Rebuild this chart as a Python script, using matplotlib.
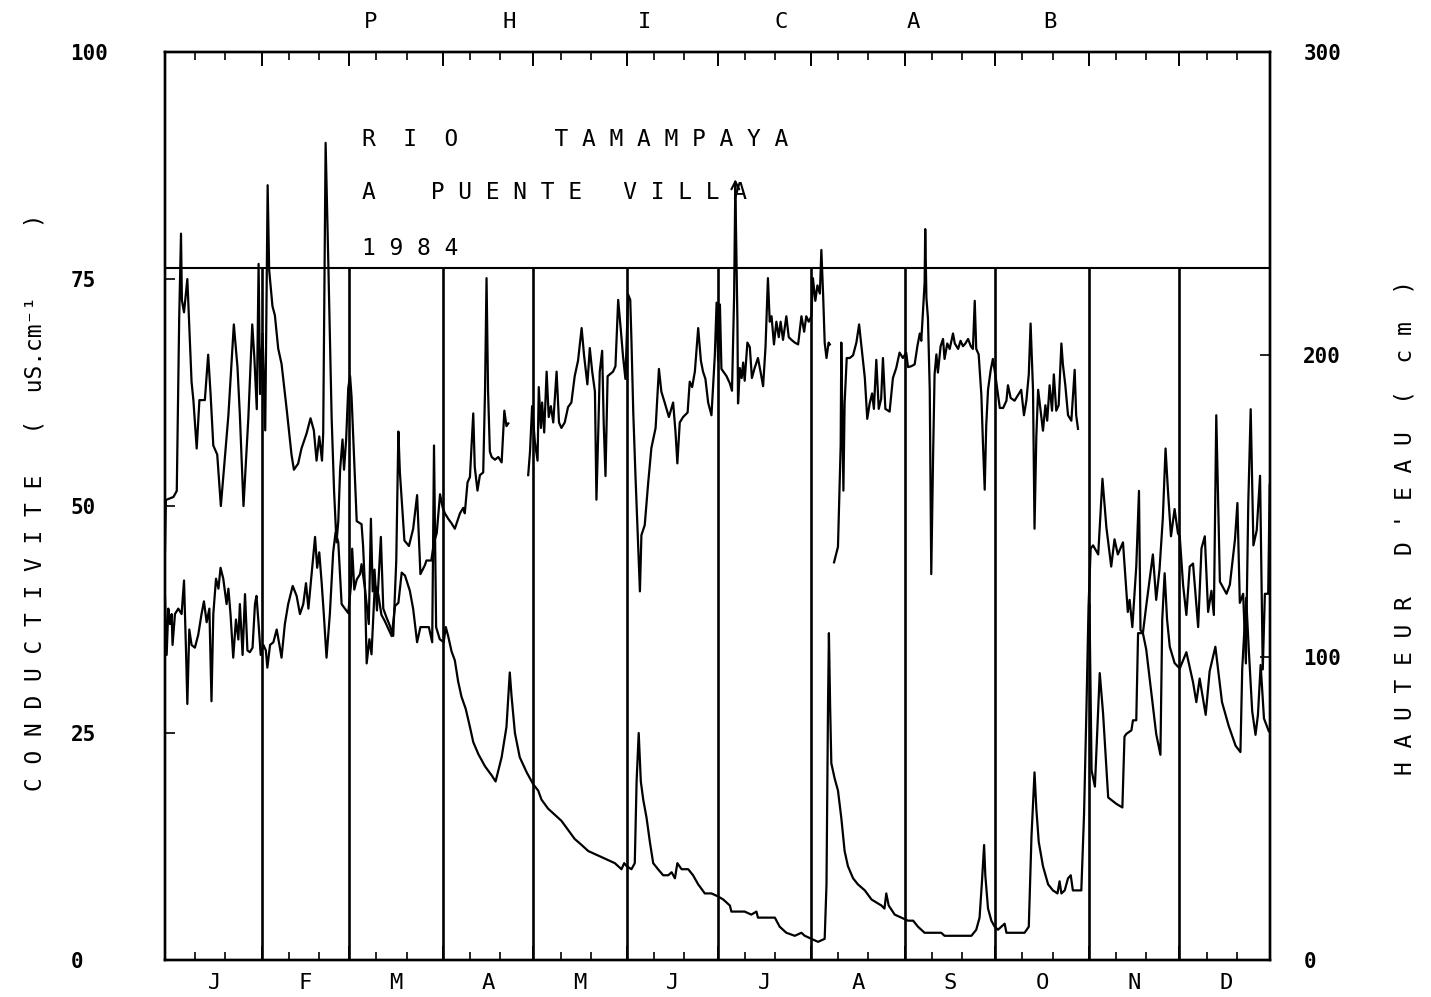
import numpy as np
import matplotlib
matplotlib.use('Agg')
import matplotlib.pyplot as plt
import matplotlib.transforms as mtransforms

MONTHS = ['J', 'F', 'M', 'A', 'M', 'J', 'J', 'A', 'S', 'O', 'N', 'D']
# day of year (1 = 1 jan 1984) of the first day of each month, + end of year
MONTH_START = [1, 32, 61, 92, 122, 153, 183, 214, 245, 275, 306, 336, 367]
CAMPAIGNS = ['P', 'H', 'I', 'C', 'A', 'B']
CAMPAIGN_DAY = [68, 114, 159, 204, 248, 293]

# conductivite (uS/cm), day of year -> value, nan = no measure
cond_points = [
    (0.0, 40.0), (0.55, 33.6), (1.1, 38.7), (1.65, 37.0), (2.2, 38.1), (2.5, 34.7), (3.3, 38.1),
    (4.4, 38.7), (5.5, 38.1), (6.3, 41.8), (7.0, 33.6), (7.4, 28.2), (8.05, 36.4), (8.8, 34.7),
    (9.9, 34.4), (11.0, 35.8), (12.1, 38.1), (12.9, 39.5), (13.8, 37.2), (14.7, 38.7), (15.4, 28.5),
    (16.0, 38.1), (16.9, 42.0), (17.7, 40.9), (18.4, 43.2), (19.3, 42.0), (20.4, 39.2), (21.0, 40.9),
    (21.7, 38.1), (22.6, 33.3), (23.5, 37.5), (24.3, 35.3), (24.8, 39.2), (25.7, 33.6), (26.5, 40.3),
    (27.3, 34.1), (28.1, 33.9), (29.0, 34.4), (29.8, 39.2), (30.3, 40.1), (31.0, 37.0), (31.7, 33.6),
    (32.6, 34.7), (33.4, 34.1), (33.9, 32.2), (34.8, 34.7), (35.9, 35.0), (37.0, 36.4), (37.9, 34.7),
    (38.6, 33.3), (39.7, 37.0), (40.8, 39.2), (42.3, 41.2), (43.6, 40.1), (44.7, 38.1), (45.8, 39.2),
    (46.7, 41.5), (47.5, 38.7), (48.6, 42.6), (49.7, 46.6), (50.4, 43.2), (51.1, 44.9), (51.9, 41.5),
    (52.6, 38.1), (53.5, 33.3), (54.6, 38.1), (55.7, 44.9), (56.5, 47.1), (57.4, 46.0), (58.5, 39.2),
    (59.6, 38.7), (60.7, 38.2), (61.6, 41.3), (62.0, 45.3), (62.7, 40.8), (63.5, 41.9), (64.6, 42.5),
    (65.1, 43.6), (66.2, 41.0), (67.5, 37.0), (68.2, 48.6), (68.8, 40.6), (69.4, 43.0), (70.2, 38.5),
    (71.5, 46.6), (72.3, 38.7), (73.4, 37.7), (74.5, 36.8), (75.6, 35.7), (76.6, 44.0), (77.3, 58.2),
    (77.8, 53.7), (78.9, 48.1), (79.3, 46.2), (80.8, 45.6), (82.2, 47.5), (83.5, 51.2), (84.6, 42.5),
    (86.1, 43.5), (86.6, 44.0), (88.2, 44.0), (89.1, 46.0), (90.0, 47.0), (91.1, 51.3), (92.0, 49.8),
    (92.7, 49.2), (93.8, 48.6), (94.9, 48.1), (96.0, 47.5), (97.1, 48.6),
    (97.7, 49.2), (98.8, 49.8), (99.3, 49.2), (100.2, 52.6), (101.0, 53.2), (102.1, 60.2), (102.6, 54.3),
    (103.5, 51.7), (104.3, 53.4), (105.4, 53.7), (106.0, 62.7), (106.5, 75.1), (107.0, 62.7),
    (107.6, 56.0), (108.2, 55.4), (109.3, 55.1), (110.4, 55.4), (111.5, 54.8), (112.4, 60.5),
    (113.1, 58.8), (113.7, 59.1), (117.0, np.nan), (120.3, 53.4), (120.9, 56.0), (121.6, 61.0),
    (122.5, 57.1), (123.4, 55.0), (123.8, 63.1), (124.5, 58.6), (124.9, 61.4), (125.6, 58.1),
    (126.4, 64.8), (127.1, 59.8), (127.8, 61.0), (128.6, 59.2), (129.7, 64.8), (130.5, 59.2),
    (131.3, 58.6), (132.4, 59.2), (133.5, 60.9), (134.6, 61.4), (135.7, 64.3), (136.8, 66.0),
    (138.0, 69.6), (138.8, 66.6), (139.9, 63.4), (140.7, 67.4), (141.5, 64.8), (142.4, 62.6),
    (142.9, 50.7), (143.5, 58.1), (144.0, 64.8), (144.8, 67.1), (145.3, 59.2), (145.9, 53.3),
    (146.6, 64.3), (147.3, 64.5), (148.4, 64.8), (149.2, 65.4), (150.1, 72.7), (151.0, 69.3),
    (151.7, 66.5), (152.5, 64.0), (153.4, 73.3), (154.1, 72.7), (154.5, 68.2), (155.1, 60.3),
    (155.8, 53.6), (156.7, 45.7), (157.3, 40.6), (157.8, 46.8), (158.9, 47.9), (160.0, 52.4),
    (161.1, 56.4), (162.5, 58.6), (163.6, 65.1), (164.4, 62.6), (165.5, 61.4), (166.9, 59.8),
    (168.3, 61.4), (169.1, 58.1), (169.7, 54.7), (170.5, 59.2), (171.6, 59.8), (173.1, 60.3),
    (173.8, 63.7), (174.6, 63.1), (175.5, 64.8), (176.6, 69.6), (177.5, 66.0), (178.2, 64.8),
    (179.0, 64.0), (179.9, 61.4), (181.0, 60.0), (182.1, 66.5), (182.7, 72.4), (183.2, 66.0),
    (183.8, 72.2), (184.3, 65.1), (186.0, 64.3), (187.1, 63.5), (187.8, 62.7), (188.5, 73.1),
    (188.9, 85.5), (189.6, 70.3), (189.8, 61.3), (190.4, 65.2), (191.0, 64.1), (191.5, 65.8),
    (192.0, 63.8), (192.9, 68.0), (193.7, 67.5), (194.4, 64.1), (195.3, 65.2), (196.4, 66.3),
    (197.3, 64.7), (198.1, 63.2), (198.9, 67.5), (199.7, 75.1), (200.3, 70.3), (200.9, 70.9),
    (201.7, 67.8), (202.5, 70.3), (203.3, 68.6), (203.9, 70.3), (204.7, 68.3), (205.8, 70.9),
    (206.6, 68.6), (207.5, 68.3), (208.6, 68.0), (209.7, 67.8), (210.8, 70.9), (211.7, 69.2),
    (212.4, 70.9), (213.2, 70.3), (214.1, 70.9), (214.6, 75.1), (215.4, 72.6), (216.1, 74.3),
    (216.9, 73.4), (217.4, 78.2), (218.0, 73.1), (218.5, 68.0), (219.1, 66.3), (219.8, 68.0),
    (220.2, 67.8), (221.0, np.nan), (221.6, 43.8), (222.9, 45.5), (223.8, 56.7), (224.0, 68.0),
    (224.4, 59.0), (224.7, 51.7), (225.1, 61.3), (225.8, 66.3), (226.8, 66.3), (227.9, 66.6),
    (229.0, 68.0), (229.9, 70.0), (230.7, 67.5), (231.8, 64.1), (232.6, 59.6), (233.4, 61.3),
    (234.2, 62.4), (234.8, 60.7), (235.6, 66.1), (236.4, 60.7), (237.2, 61.8), (237.8, 66.3),
    (238.6, 60.7), (240.0, 60.4), (241.1, 64.1), (242.2, 65.2), (243.3, 66.9), (244.4, 66.3),
    (245.5, 66.9), (246.1, 65.3), (247.2, 65.4), (248.3, 65.6), (249.2, 67.6), (250.0, 69.0),
    (250.5, 68.2), (251.1, 71.8), (251.6, 74.6), (251.8, 80.5), (252.2, 72.9), (252.7, 70.7),
    (253.3, 62.8), (253.8, 42.5), (254.4, 55.4), (254.9, 64.5), (255.5, 66.7), (256.0, 64.7),
    (256.9, 67.6), (257.7, 68.4), (258.2, 66.2), (259.1, 67.9), (259.9, 67.3), (261.0, 69.0),
    (261.6, 67.9), (262.7, 67.3), (263.5, 68.2), (264.3, 67.6), (265.1, 67.9), (266.0, 68.4),
    (266.9, 67.6), (267.6, 67.3), (268.2, 72.6), (268.7, 67.3), (269.5, 66.7), (270.4, 62.2),
    (270.9, 57.1), (271.5, 51.8), (272.0, 58.8), (272.6, 62.8), (273.5, 65.0), (274.2, 66.2),
    (275.0, 64.5), (275.7, 62.8), (276.5, 60.8), (277.6, 60.8), (278.7, 61.6), (279.2, 63.3),
    (280.1, 61.9), (281.4, 61.6), (282.5, 62.2), (283.6, 62.8), (284.5, 60.0), (285.3, 61.6),
    (286.1, 64.5), (286.7, 70.1), (287.5, 62.8), (288.0, 47.5), (288.6, 57.7), (289.2, 62.8),
    (290.0, 60.5), (290.8, 58.3), (291.6, 61.1), (292.2, 59.4), (293.0, 63.3), (293.8, 60.5),
    (294.4, 64.5), (295.2, 60.5), (296.0, 61.1), (296.9, 67.9), (297.4, 65.6), (298.2, 63.3),
    (299.1, 60.0), (300.2, 59.4), (301.3, 65.0), (301.8, 60.0), (302.4, 58.5), (304.3, np.nan),
    (306.2, 39.1), (306.9, 20.9), (308.0, 19.1), (309.6, 31.6), (310.7, 27.2), (312.4, 17.9),
    (315.1, 17.2), (317.1, 16.8), (317.8, 24.6), (318.4, 24.9), (320.1, 25.3), (320.6, 26.4),
    (321.7, 26.4), (322.3, 36.0), (323.9, 36.0), (325.0, 34.2), (326.7, 29.4), (328.3, 24.9),
    (329.7, 22.6), (330.3, 37.5), (331.1, 42.6), (331.9, 37.5), (332.8, 34.5), (334.4, 32.7),
    (336.1, 32.1), (338.3, 33.9), (340.5, 30.6), (341.6, 28.4), (342.7, 31.0), (344.7, 27.0),
    (346.0, 31.8), (347.9, 34.5), (350.1, 28.4), (352.3, 25.8), (354.6, 23.6), (356.2, 22.9),
    (356.8, 32.1), (358.1, 39.9), (359.0, 34.0), (360.1, 27.4), (361.2, 24.8), (362.0, 27.0),
    (362.9, 32.5), (364.0, 26.6), (365.6, 25.2),
]

# hauteur d'eau (cm)
water_points = [
    (0.0, 135), (0.3, 152), (2.8, 153), (3.9, 155), (4.7, 212), (5.3, 240), (5.6, 218), (6.3, 214),
    (7.4, 225), (8.8, 191), (9.4, 185), (10.5, 169), (11.4, 185), (13.2, 185), (14.3, 200),
    (15.1, 187), (16.0, 170), (17.3, 167), (18.5, 150), (21.0, 180), (22.8, 210), (24.0, 196),
    (24.8, 180), (26.0, 150), (27.6, 179), (28.9, 210), (29.6, 199), (30.4, 182), (31.0, 230),
    (31.5, 187), (32.3, 207), (33.2, 175), (34.0, 256), (34.5, 228), (35.6, 216), (36.4, 213),
    (37.5, 202), (38.6, 197), (40.3, 182), (41.9, 167), (42.7, 162), (44.1, 164), (45.2, 169),
    (46.9, 174), (48.2, 179), (49.3, 175), (50.2, 165), (51.1, 173), (52.0, 165), (52.4, 174),
    (53.2, 270), (54.1, 230), (55.2, 179), (56.0, 155), (56.8, 138), (57.4, 145), (58.0, 162),
    (58.8, 172), (59.3, 162), (60.0, 172), (60.7, 189), (61.3, 193), (61.8, 186), (63.5, 145),
    (65.1, 144), (65.6, 137), (66.2, 124), (66.8, 98), (67.7, 106), (68.4, 101), (69.5, 124),
    (70.6, 121), (71.7, 114), (72.8, 112), (75.1, 107), (76.2, 117), (77.3, 118),
    (78.4, 128), (79.5, 127), (81.1, 122), (82.2, 116), (83.5, 105), (84.6, 110), (87.4, 110),
    (88.5, 105), (89.1, 170), (89.8, 110), (91.0, 106), (92.3, 105), (93.0, 110),
    (93.8, 107), (94.9, 102), (96.0, 99), (97.1, 92),
    (98.2, 87), (99.6, 83), (101.0, 77), (102.1, 72), (103.8, 68), (106.0, 64), (108.2, 61),
    (109.5, 59), (111.5, 67), (113.1, 77), (114.2, 95), (114.8, 87), (115.9, 75), (117.5, 67),
    (119.8, 62), (122.0, 58), (123.6, 56), (124.7, 53), (126.9, 50), (129.1, 48), (131.3, 46),
    (133.5, 43), (135.7, 40), (138.0, 38), (140.2, 36), (142.4, 35), (144.6, 34), (146.8, 33),
    (149.0, 32), (151.2, 30), (152.1, 32), (152.9, 31), (154.5, 30), (155.6, 32), (156.2, 59),
    (156.9, 75), (157.6, 59), (158.4, 53), (159.5, 47), (160.6, 39), (161.7, 32), (163.3, 30),
    (165.0, 28), (166.7, 28), (167.8, 29), (168.9, 27), (169.7, 32), (171.1, 30), (173.3, 30),
    (174.9, 28), (176.6, 25), (178.8, 22), (181.0, 22), (183.2, 21), (184.9, 20), (187.1, 18),
    (187.6, 16), (192.0, 16), (194.2, 15), (195.9, 16), (196.4, 14), (202.0, 14), (203.6, 11),
    (205.8, 9), (208.6, 8), (210.8, 9), (211.9, 8), (214.1, 7), (216.3, 6), (218.5, 7),
    (219.1, 25), (219.6, 84), (219.9, 108), (220.3, 84), (220.7, 65), (221.8, 60), (222.9, 56),
    (224.0, 47), (225.1, 36), (226.2, 31), (227.9, 27), (229.5, 25), (231.8, 23), (234.0, 20),
    (237.3, 18), (238.3, 17), (238.9, 22), (239.7, 18), (241.7, 15), (243.9, 14), (246.1, 13),
    (247.8, 13), (249.4, 11), (251.6, 9), (257.1, 9), (258.2, 8), (267.1, 8), (268.7, 10),
    (269.8, 14), (270.6, 26), (271.3, 38), (271.7, 28), (272.6, 17), (273.7, 13), (274.8, 11),
    (275.9, 10), (277.0, 11), (278.1, 12), (278.7, 9), (284.7, 9), (286.1, 11), (287.0, 41),
    (288.0, 62), (288.6, 50), (289.4, 39), (290.8, 31), (292.5, 25), (294.1, 23), (295.6, 22),
    (296.3, 26), (296.9, 22), (298.0, 23), (299.1, 27), (300.0, 28), (300.7, 23), (301.5, 23),
    (302.6, 23), (303.5, 23), (304.4, 48), (305.2, 83), (305.9, 117), (306.6, 136), (307.4, 137),
    (309.1, 134), (310.5, 159), (311.8, 143), (313.4, 130), (314.5, 139), (315.6, 134),
    (317.3, 138), (318.4, 122), (318.9, 115), (319.5, 119), (320.4, 110), (321.7, 130),
    (322.6, 155), (323.1, 109), (323.9, 108), (325.0, 117), (327.2, 134), (328.3, 119),
    (329.4, 129), (330.5, 146), (331.4, 169), (332.2, 155), (333.2, 140), (334.4, 149),
    (335.5, 141), (336.1, 140), (337.2, 124), (338.3, 114), (339.4, 130), (340.5, 131),
    (342.2, 110), (343.3, 136), (344.4, 140), (345.5, 115), (346.6, 122), (347.4, 114),
    (348.2, 180), (349.4, 125), (351.6, 121), (352.7, 124), (354.4, 139), (355.2, 151),
    (356.0, 118), (357.1, 121), (358.0, 98), (358.8, 151), (359.6, 182), (360.5, 137),
    (361.6, 142), (362.7, 160), (363.6, 96), (364.3, 121), (365.4, 121), (365.9, 157),
]

HEADER_LINE = 76.2  # separator under the title block (left scale)
MONO = ['DejaVu Sans Mono', 'DejaVu Sans']

cond = np.array(cond_points, dtype=float)
water = np.array(water_points, dtype=float)

fig = plt.figure(figsize=(14.31, 9.97), dpi=100)
ax = fig.add_axes([0.1153, 0.0371, 0.7722, 0.9107])
ax2 = ax.twinx()

ax.plot(cond[:, 0], cond[:, 1], color='black', lw=1.6)
ax2.plot(water[:, 0], water[:, 1], color='black', lw=1.6)

# off-scale arrow on the highest conductivity value
imax = np.nanargmax(cond[:, 1])
ax.annotate('', xy=(cond[imax, 0], cond[imax, 1] + 0.8), xytext=(cond[imax, 0], cond[imax, 1] - 4),
            arrowprops=dict(arrowstyle='->', lw=1.5, color='black', mutation_scale=14))

ax.set_xlim(0, 366)
ax.set_ylim(0, 100)
ax2.set_ylim(0, 300)

ax.axhline(HEADER_LINE, color='black', lw=1.5)
ax.vlines(MONTH_START[1:-1], 0, HEADER_LINE, color='black', lw=1.9)

# ticks: month bounds long, 10th / 20th of month short, all pointing inward
minor = [m + k for m in MONTH_START[:-1] for k in (9, 19)]
ax.set_xticks(MONTH_START[1:-1])
ax.set_xticks(minor, minor=True)
ax.tick_params(axis='x', which='major', direction='in', length=10, width=1.4,
               top=True, bottom=True, labelbottom=False)
ax.tick_params(axis='x', which='minor', direction='in', length=6, width=1.2,
               top=True, bottom=True)

ax.set_yticks([0, 25, 50, 75, 100])
ax.set_yticklabels(['0', '25', '50', '75', '100'], family=MONO, fontsize=15, fontweight='bold')
ax.tick_params(axis='y', direction='in', length=7, width=1.2, pad=68)
for lab in ax.get_yticklabels():
    lab.set_ha('left')

ax2.set_yticks([0, 100, 200, 300])
ax2.set_yticklabels(['0', '100', '200', '300'], family=MONO, fontsize=15, fontweight='bold')
ax2.tick_params(axis='y', direction='in', length=7, width=1.2, pad=24)

for a in (ax, ax2):
    for sp in a.spines.values():
        sp.set_linewidth(1.7)

# month letters under the axis, campaign letters above
trans = mtransforms.blended_transform_factory(ax.transData, ax.transAxes)
for i, m in enumerate(MONTHS):
    mid = (MONTH_START[i] + MONTH_START[i + 1]) / 2
    ax.text(mid, -0.025, m, transform=trans, ha='center', va='center',
            family=MONO, fontsize=16)
for c, d in zip(CAMPAIGNS, CAMPAIGN_DAY):
    ax.text(d, 1.033, c, transform=trans, ha='center', va='center',
            family=MONO, fontsize=16)

# title block
ax.text(65.2, 89.7, 'R  I  O       T A M A M P A Y A', family=MONO, fontsize=16.5, va='baseline')
ax.text(65.2, 83.8, 'A    P U E N T E   V I L L A', family=MONO, fontsize=16.5, va='baseline')
ax.text(65.2, 77.6, '1 9 8 4', family=MONO, fontsize=16.5, va='baseline')

fig.text(0.0245, 0.4965, 'C O N D U C T I V I T E   (  uS.cm⁻¹     )', rotation=90,
         ha='center', va='center', family=MONO, fontsize=16.5)
fig.text(0.982, 0.471, "H A U T E U R   D ' E A U  (  c m  )", rotation=90,
         ha='center', va='center', family=MONO, fontsize=16.5)

fig.savefig('out.png', dpi=100, facecolor='white')
